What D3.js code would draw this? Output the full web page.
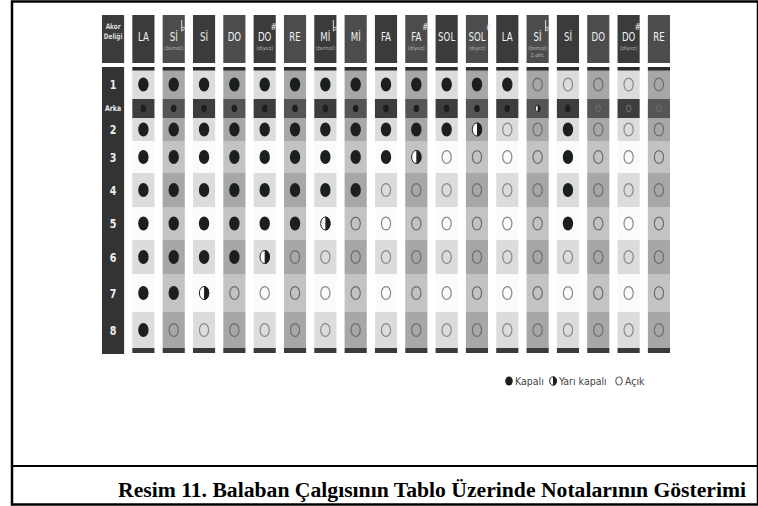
<!DOCTYPE html>
<html lang="tr">
<head>
  <meta charset="UTF-8">
  <title>Balaban nota tablosu</title>
  <script src="https://d3js.org/d3.v7.min.js"></script>
  <style>
    body { margin: 0; background: #fff; }
    svg { display: block; }
    .cond { font-family: 'DejaVu Sans', sans-serif; font-stretch: condensed; }
  </style>
</head>
<body>
  <svg width="758" height="506"></svg>

  <script>
    // data: notes, their sub labels, accidentals, hole rows
    const notes = ['LA', 'Sİ', 'Sİ', 'DO', 'DO', 'RE', 'Mİ', 'Mİ', 'FA', 'FA', 'SOL', 'SOL', 'LA', 'Sİ', 'Sİ', 'DO', 'DO', 'RE'];
    const accidentals = ['', 'b', '', '', '#', '', 'b', '', '', '#', '', '#', '', 'b', '', '', '#', ''];
    const subLabels = [[], ['(bemol)'], [], [], ['(diyez)'], [], ['(bemol)'], [], [], ['(diyez)'], [], ['(diyez)'], [], ['(bemol)', '2.okt.'], [], [], ['(diyez)'], []];
    const holes = ['1', 'Arka', '2', '3', '4', '5', '6', '7', '8'];

    // 1 = kapalı, 0.5 = yarı kapalı, 0 = açık (order follows holes)
    const fingering = [
      [1, 1, 1, 1, 1, 1, 1, 1, 1],
      [1, 1, 1, 1, 1, 1, 1, 1, 0],
      [1, 1, 1, 1, 1, 1, 1, 0.5, 0],
      [1, 1, 1, 1, 1, 1, 1, 0, 0],
      [1, 1, 1, 1, 1, 1, 0.5, 0, 0],
      [1, 1, 1, 1, 1, 1, 0, 0, 0],
      [1, 1, 1, 1, 1, 0.5, 0, 0, 0],
      [1, 1, 1, 1, 1, 0, 0, 0, 0],
      [1, 1, 1, 1, 0, 0, 0, 0, 0],
      [1, 1, 1, 0.5, 0, 0, 0, 0, 0],
      [1, 1, 1, 0, 0, 0, 0, 0, 0],
      [1, 1, 0.5, 0, 0, 0, 0, 0, 0],
      [1, 1, 0, 0, 0, 0, 0, 0, 0],
      [0, 0.5, 0, 0, 0, 0, 0, 0, 0],
      [0, 1, 1, 1, 1, 1, 0, 0, 0],
      [0, 0, 0, 0, 0, 0, 0, 0, 0],
      [0, 0, 0, 0, 0, 0, 0, 0, 0],
      [0, 0, 0, 0, 0, 0, 0, 0, 0]
    ];

    const legendItems = [
      { label: 'Kapalı', value: 1 },
      { label: 'Yarı kapalı', value: 0.5 },
      { label: 'Açık', value: 0 }
    ];

    const caption = 'Resim 11. Balaban Çalgısının Tablo Üzerinde Notalarının Gösterimi';

    // layout
    const svg = d3.select('svg');
    const rowWeights = [29, 19, 23, 32, 34, 33, 34, 38, 36];

    const x = d3.scaleBand()
      .domain(d3.range(notes.length + 1))
      .range([102, 670])
      .paddingInner(0.27);
    const bw = x.bandwidth();

    const cum = [0];
    rowWeights.forEach(w => cum.push(cum[cum.length - 1] + w));
    const yLin = d3.scaleLinear().domain([0, cum[cum.length - 1]]).range([70, 348]);
    const rowTop = i => yLin(cum[i]);
    const rowBottom = i => yLin(cum[i + 1]);
    const rowMid = i => (rowTop(i) + rowBottom(i)) / 2;

    const isGray = j => j % 2 === 1;
    const bandOf = i => holes[i] === 'Arka' ? 'dark' : (['3', '5', '7'].includes(holes[i]) ? 'white' : 'light');
    const cellFill = (j, i) => {
      const b = bandOf(i);
      if (b === 'dark') return isGray(j) ? '#555' : '#3d3d3d';
      if (isGray(j)) return b === 'white' ? '#c3c3c3' : '#a7a7a7';
      return b === 'white' ? '#fbfbfb' : '#dcdcdc';
    };

    // outer frame and caption box
    svg.append('rect')
      .attr('x', 12).attr('y', 1.5).attr('width', 746).attr('height', 503)
      .attr('fill', 'none').attr('stroke', '#000').attr('stroke-width', 2.5);
    svg.append('line')
      .attr('x1', 12).attr('x2', 758).attr('y1', 466).attr('y2', 466)
      .attr('stroke', '#000').attr('stroke-width', 2);

    // header boxes
    const headerTop = 15, headerBottom = 63;
    svg.append('rect')
      .attr('x', x(0)).attr('y', headerTop).attr('width', bw).attr('height', headerBottom - headerTop)
      .attr('fill', '#3b3b3b');
    svg.selectAll('.akor')
      .data(['Akor', 'Deliği'])
      .enter().append('text')
      .attr('class', 'cond')
      .attr('transform', (d, k) => `translate(${x(0) + bw / 2},${29 + k * 10}) scale(0.85,1)`)
      .attr('text-anchor', 'middle')
      .attr('font-weight', 'bold').attr('font-size', 7.5)
      .attr('fill', '#ddd')
      .text(d => d);

    const heads = svg.selectAll('.head')
      .data(notes.map((n, j) => ({ n, j })))
      .enter().append('g')
      .attr('transform', d => `translate(${x(d.j + 1)},0)`);
    heads.append('rect')
      .attr('y', headerTop).attr('width', bw).attr('height', headerBottom - headerTop)
      .attr('fill', d => isGray(d.j) ? '#4c4c4c' : '#3b3b3b');
    heads.append('text')
      .attr('class', 'cond')
      .attr('transform', `translate(${bw / 2},41) scale(0.8,1)`)
      .attr('text-anchor', 'middle')
      .attr('font-size', 12)
      .attr('fill', '#f2f2f2')
      .text(d => d.n);

    // accidentals: sharp as text, flat drawn as a small stem + bowl
    const accX = d => bw / 2 + d.n.length * 3 + 3;
    heads.filter(d => accidentals[d.j] === '#').append('text')
      .attr('class', 'cond')
      .attr('x', accX).attr('y', 30)
      .attr('text-anchor', 'middle')
      .attr('font-size', 8.5)
      .attr('fill', '#eee')
      .text('#');
    heads.filter(d => accidentals[d.j] === 'b').append('path')
      .attr('d', d => {
        const ax = accX(d) - 1;
        return `M${ax},20 L${ax},31 C${ax + 3.5},29.5 ${ax + 4},26.5 ${ax},27.5`;
      })
      .attr('fill', 'none').attr('stroke', '#eee').attr('stroke-width', 0.9);

    heads.each(function (d) {
      d3.select(this).selectAll('.sub')
        .data(subLabels[d.j])
        .enter().append('text')
        .attr('class', 'cond')
        .attr('x', bw / 2)
        .attr('y', (s, k) => 50 + k * 6.5)
        .attr('text-anchor', 'middle')
        .attr('font-size', 5.5)
        .attr('fill', '#b5b5b5')
        .text(s => s);
    });

    // body: hole label column
    const bodyTop = 67, bodyBottom = 354;
    svg.append('rect')
      .attr('x', x(0)).attr('y', bodyTop).attr('width', bw).attr('height', bodyBottom - bodyTop)
      .attr('fill', '#333');
    svg.selectAll('.hole')
      .data(holes)
      .enter().append('text')
      .attr('class', 'cond')
      .attr('transform', (d, i) => `translate(${x(0) + bw / 2},${rowMid(i) + (d === 'Arka' ? 2.5 : 4.5)}) scale(0.85,1)`)
      .attr('text-anchor', 'middle')
      .attr('font-weight', 'bold')
      .attr('font-size', d => d === 'Arka' ? 8 : 12.5)
      .attr('fill', '#eee')
      .text(d => d);

    // body: note columns
    const cols = svg.selectAll('.col')
      .data(fingering.map((f, j) => ({ f, j })))
      .enter().append('g')
      .attr('transform', d => `translate(${x(d.j + 1)},0)`);

    cols.selectAll('.cell')
      .data(d => d.f.map((v, i) => ({ v, i, j: d.j })))
      .enter().append('rect')
      .attr('y', d => rowTop(d.i))
      .attr('width', bw)
      .attr('height', d => rowBottom(d.i) - rowTop(d.i) + 0.3)
      .attr('fill', d => cellFill(d.j, d.i));
    cols.append('rect')
      .attr('y', bodyTop).attr('width', bw).attr('height', 3.5)
      .attr('fill', '#2b2b2b');
    cols.append('rect')
      .attr('y', 348).attr('width', bw).attr('height', 5)
      .attr('fill', '#3a3a3a');

    function drawHole(g, cx, cy, rx, ry, v, stroke) {
      if (v === 1) {
        g.append('ellipse').attr('cx', cx).attr('cy', cy).attr('rx', rx).attr('ry', ry)
          .attr('fill', '#1c1f1f');
      } else if (v === 0.5) {
        g.append('ellipse').attr('cx', cx).attr('cy', cy).attr('rx', rx - 0.5).attr('ry', ry - 0.5)
          .attr('fill', '#fff').attr('stroke', '#222').attr('stroke-width', 1);
        g.append('path')
          .attr('d', `M${cx},${cy - ry} A${rx},${ry} 0 0 1 ${cx},${cy + ry} Z`)
          .attr('fill', '#1c1f1f');
      } else {
        g.append('ellipse').attr('cx', cx).attr('cy', cy).attr('rx', rx - 0.6).attr('ry', ry - 0.6)
          .attr('fill', 'none').attr('stroke', stroke).attr('stroke-width', 1.2);
      }
    }

    cols.each(function (d) {
      const g = d3.select(this);
      d.f.forEach((v, i) => {
        const arka = holes[i] === 'Arka';
        const stroke = arka ? '#6a6a6a' : (isGray(d.j) ? '#6e6e6e' : '#8a8a8a');
        drawHole(g, bw / 2, rowMid(i), arka ? 2.8 : 5.2, arka ? 3.8 : 7, v, stroke);
      });
    });

    // legend
    const legendX = [509, 553, 619];
    const legend = svg.selectAll('.legend')
      .data(legendItems)
      .enter().append('g')
      .attr('transform', (d, k) => `translate(${legendX[k]},381)`);
    legend.each(function (d) {
      drawHole(d3.select(this), 0, 0, 3.8, 4.6, d.value, '#666');
    });
    legend.append('text')
      .attr('class', 'cond')
      .attr('x', 6).attr('y', 3.8)
      .attr('font-size', 10.5)
      .attr('fill', '#444')
      .text(d => d.label);

    // caption
    svg.append('text')
      .attr('x', 118).attr('y', 497)
      .attr('font-family', "'Liberation Serif', 'Times New Roman', serif")
      .attr('font-weight', 'bold').attr('font-size', 20)
      .attr('textLength', 628).attr('lengthAdjust', 'spacingAndGlyphs')
      .attr('fill', '#000')
      .text(caption);
  </script>
</body>
</html>
